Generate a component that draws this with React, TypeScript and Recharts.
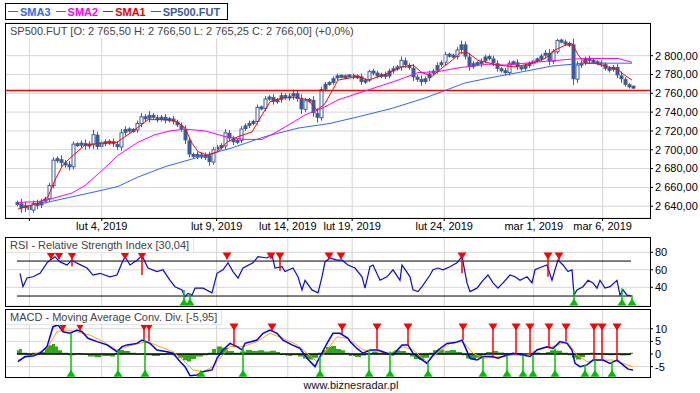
import React from 'react';
import { ComposedChart, Line, Bar, Area, XAxis, YAxis, ReferenceLine, CartesianGrid } from 'recharts';

// ---------- time axis (bar index units) ----------
const dateTicks = [3.1, 21.2, 49.9, 67.7, 83.8, 106.8, 129.2, 146.4];
const dateLabels = ['', 'lut 4, 2019', 'lut 9, 2019', 'lut 14, 2019', 'lut 19, 2019', 'lut 24, 2019', 'mar 1, 2019', 'mar 6, 2019'];

// ---------- price ----------
const priceTicks = [2640, 2660, 2680, 2700, 2720, 2740, 2760, 2780, 2800];
const priceLevel = 2763;
const closes = [
  2643, 2638, 2641, 2636, 2643, 2641, 2645, 2648, 2662, 2689,
  2690, 2686, 2684, 2682, 2706, 2705, 2707, 2704, 2706, 2716,
  2703, 2708, 2707, 2709, 2706, 2703, 2718, 2722, 2720, 2721,
  2728, 2735, 2733, 2737, 2734, 2732, 2735, 2731, 2733, 2730,
  2726, 2722, 2710, 2695, 2693, 2695, 2692, 2694, 2687, 2700,
  2703, 2704, 2718, 2712, 2708, 2710, 2722, 2726, 2728, 2730,
  2745, 2744, 2754, 2756, 2751, 2753, 2758, 2755, 2757, 2760,
  2754, 2743, 2752, 2753, 2739, 2734, 2764, 2770, 2771, 2776,
  2779, 2777, 2778, 2779, 2777, 2778, 2772, 2774, 2783, 2782,
  2778, 2780, 2778, 2784, 2786, 2788, 2795, 2790, 2787, 2777,
  2775, 2772, 2776, 2781, 2784, 2790, 2793, 2801, 2800, 2799,
  2806, 2812, 2799, 2788, 2792, 2791, 2794, 2799, 2797, 2792,
  2786, 2784, 2782, 2792, 2793, 2788, 2786, 2790, 2791, 2795,
  2796, 2800, 2803, 2794, 2804, 2816, 2815, 2812, 2812, 2775,
  2790, 2792, 2797, 2795, 2793, 2792, 2791, 2786, 2785, 2788,
  2779, 2775, 2769, 2767, 2766,
];
// wick extension beyond the body (points), per bar
const wicks = [
  3, 5, 4, 6, 3, 4, 3, 2, 3, 3,
  3, 4, 3, 4, 3, 2, 3, 4, 3, 5,
  3, 2, 3, 2, 3, 3, 4, 3, 2, 2,
  3, 4, 3, 4, 2, 3, 2, 3, 2, 3,
  2, 3, 4, 3, 2, 3, 2, 3, 4, 3,
  2, 3, 4, 3, 3, 2, 3, 2, 3, 2,
  3, 2, 3, 2, 3, 2, 3, 2, 3, 4,
  3, 5, 3, 2, 4, 5, 3, 2, 2, 2,
  2, 1, 2, 1, 2, 2, 3, 2, 2, 3,
  2, 2, 3, 2, 3, 2, 4, 3, 2, 4,
  3, 4, 2, 3, 2, 3, 2, 3, 2, 2,
  3, 4, 3, 4, 2, 2, 3, 2, 2, 3,
  3, 2, 3, 3, 2, 3, 2, 2, 3, 2,
  2, 2, 3, 4, 3, 2, 2, 2, 3, 6,
  4, 3, 2, 3, 2, 2, 3, 2, 3, 2,
  3, 4, 2, 2, 1,
];

const sma1: [number, number][] = [
  [0.25, 2637], [5.25, 2643], [7.75, 2650], [9.5, 2668], [11.5, 2684], [14, 2694], [17, 2705], [21.25, 2707],
  [25, 2708], [28.75, 2719], [32.75, 2732], [38.25, 2732], [40.25, 2729], [42, 2723], [43.75, 2707], [45.25, 2698],
  [47.75, 2694], [50.25, 2698], [52.5, 2708], [55.25, 2714], [58.75, 2719], [61.25, 2737], [63.25, 2751], [66.25, 2755],
  [69.5, 2756], [72.75, 2753], [75, 2742], [77, 2749], [80.25, 2774], [85.25, 2778], [87.75, 2774], [92, 2780],
  [96.25, 2788], [99, 2790], [101.25, 2782], [103.75, 2778], [106.25, 2787], [108.75, 2795], [110.75, 2803], [112.75, 2803],
  [115.25, 2795], [118.25, 2792], [120.25, 2790], [124.5, 2788], [128.75, 2792], [132, 2797], [134.5, 2806], [137, 2811],
  [138.75, 2813], [140.25, 2801], [142, 2792], [144.5, 2792], [147.75, 2788], [150.25, 2785], [152, 2779], [153.75, 2774],
];
const sma2: [number, number][] = [
  [0.25, 2644], [5.25, 2645], [7.75, 2647], [13.75, 2654], [17, 2662], [21.25, 2678], [25.25, 2694], [30.25, 2708],
  [34.5, 2716], [38.25, 2720], [42, 2722], [47, 2720], [52, 2714], [57, 2711], [61.25, 2711], [64.5, 2718],
  [67.75, 2726], [72, 2737], [76.25, 2744], [80.25, 2753], [85.25, 2760], [90.25, 2767], [95.25, 2774], [100.25, 2782],
  [105.25, 2783], [110.25, 2787], [117.75, 2791], [122, 2790], [129.5, 2793], [137.75, 2796], [142, 2797], [150.25, 2797],
  [153.75, 2793],
];
const sma3: [number, number][] = [
  [5.25, 2642], [13.75, 2650], [21.25, 2657], [25.25, 2661], [30.25, 2671], [37, 2682], [45.25, 2692], [53.75, 2702],
  [62, 2714], [70.25, 2723], [78.25, 2728], [85.25, 2735], [93.75, 2744], [102, 2755], [107, 2763], [112, 2771],
  [117.75, 2776], [125.25, 2782], [133.75, 2789], [142, 2792], [150.25, 2792], [153.75, 2792],
];

// ---------- RSI ----------
const rsiTicks = [40, 60, 80];
const rsi: [number, number][] = [
  [0.75, 56], [1.5, 40.7], [2.5, 50.6], [4, 52], [5.75, 56], [7.5, 68], [8.25, 71], [9.5, 75], [10.75, 69], [12.5, 65.5],
  [13.75, 71], [15, 67.6], [17.5, 62], [19, 54], [20.75, 56], [23.25, 52], [25, 54], [26.25, 68], [27, 75], [28.25, 65.5],
  [30, 71], [31.25, 76], [32.75, 62], [35, 58], [36.5, 60], [38.25, 48], [39.5, 40.7], [41.25, 37], [42, 29], [42.75, 33],
  [43.75, 31], [44.5, 39], [46.5, 39], [48.75, 33.6], [50, 56], [51.5, 60], [52.75, 68], [54, 58], [55.25, 50.6], [56.5, 62],
  [59, 68], [60.25, 75], [62.5, 73.5], [63.75, 77], [64.5, 62], [66.25, 63.5], [67, 58], [69, 62], [70.25, 52], [71.25, 37],
  [72, 48], [73.75, 37], [75.25, 33.6], [76.25, 52], [77, 69], [78.25, 73.5], [80, 71], [81.25, 71], [82.75, 65.5], [84.5, 62],
  [86.25, 52], [87, 39], [88.25, 63.5], [89, 65.5], [90.75, 48], [92.5, 52], [94, 60], [95.75, 48], [96.25, 65.5], [98.25, 52],
  [99, 37], [100.25, 35], [101.25, 40.7], [103.25, 54], [104, 60], [105.25, 62], [106.5, 60], [108.25, 63.5], [110, 68], [111.25, 75],
  [112.5, 45], [113.25, 35], [115, 39], [116.5, 48], [117.75, 54], [119, 45], [120.25, 39], [121.5, 45], [123.25, 54], [124.5, 52],
  [125.75, 48], [127.5, 52], [128.75, 45], [129.5, 60], [131.25, 63.5], [132.5, 65.5], [133.75, 48], [134.5, 60], [135.25, 71], [136.5, 65.5],
  [137.75, 58], [138.75, 60], [139.25, 31], [140, 37], [141.5, 40.7], [142.75, 48], [144, 45], [145, 39], [145.75, 48], [147, 39],
  [148.25, 40.7], [150, 48], [150.75, 31], [151.5, 37], [152.5, 31], [153.75, 30],
];
const rsiSell: [number, number][] = [
  [8.5, 72], [10.5, 72], [13.75, 64], [27, 74], [31.25, 54], [52.5, 72], [63.5, 76], [65.75, 59], [78, 73], [81, 72],
  [111.25, 56], [132.75, 52], [135.5, 71],
];
const rsiBuy: [number, number][] = [[41.75, 37], [43.25, 33], [139.25, 37], [151.25, 39], [153.75, 31]];

// ---------- MACD ----------
const macdTicks = [-5, 0, 5, 10];
const macd: [number, number][] = [
  [0.25, -3], [2, -1], [4, -0.8], [5.75, 0.3], [7.5, 2.9], [8.25, 6.8], [9, 10.8], [10.25, 11.5], [11.5, 8.8], [13.25, 8.2],
  [15, 9.5], [16.25, 8.8], [17.75, 6.2], [20, 4.9], [22.5, 3.6], [25, 0.9], [26.25, 2.9], [27.5, 3.6], [30, 4.2], [31.25, 5.5],
  [33.25, 4.2], [35, 1.6], [37.5, 0.9], [39, 0.3], [40.75, -3], [42, -5], [43.25, -8.6], [45, -8.3], [46.5, -7], [48.75, -6.3],
  [50, -1.7], [51.5, 1.6], [53.25, 4.2], [55, 2.9], [56.25, 1.6], [57, 4.2], [60, 5.5], [61.5, 8.2], [63.25, 9.5], [65, 8.2],
  [66.5, 5.5], [68.75, 3.6], [70.75, 2.2], [72.5, -1.7], [74.5, -5], [75.75, -1], [77.5, 4.2], [79, 8.2], [80.75, 8.2], [82.75, 6.2],
  [83.25, 4.9], [85, 2.2], [86.5, 0.3], [88.25, 1.6], [90.25, 1.6], [92.5, 0.3], [94, -0.4], [96.25, 3.6], [97.75, 3.6], [99, 0.3],
  [100.75, -1.7], [102.5, -3.7], [103.75, -1], [105.25, 1.6], [107.5, 4.2], [109.5, 4.5], [111.25, 5.5], [112, 2.9], [113.25, -1.7], [115, -2.4],
  [116.5, -1], [118.75, -1], [120.25, -1.7], [122.5, -0.4], [124, 0.3], [126.5, -0.4], [128.25, -1], [130, 1.6], [132.5, 2.9], [134, 2.2],
  [135.75, 4.9], [137.5, 4.2], [138.75, 1.6], [139.5, -3.7], [140.75, -5], [142.5, -4.3], [144, -2.4], [146.5, -2.4], [148.25, -3.7], [150, -2.4],
  [151.5, -4.3], [152.75, -6], [154, -6.3],
];
const signal: [number, number][] = [
  [0.25, -2.4], [4, -0.4], [7.5, 2.2], [10, 8.8], [12, 9.5], [15, 8.8], [18.25, 7.5], [21.5, 4.9], [25, 1.6], [29, 3.6],
  [32.5, 4.9], [35.75, 2.9], [39, 0.9], [41.5, -2.4], [44, -6.3], [46.5, -7], [49, -5], [50.75, -1.7], [53.25, 2.9], [56.5, 2.9],
  [60, 4.9], [63.25, 8.2], [66.5, 6.2], [70, 3.6], [72.5, 0.3], [75, -3], [77.5, 1.6], [80, 6.8], [82.75, 6.2], [86.5, 1.6],
  [90, 0.9], [93.25, 0.3], [96.5, 2.9], [99, 1.6], [102.5, -3], [105, 0.3], [108.25, 4.2], [111.5, 4.9], [114, 0.3], [116.5, -1.7],
  [120.75, -1], [124, -0.4], [127.5, -0.4], [130.75, 2.2], [134, 2.9], [137.5, 4.9], [140, -0.4], [142.5, -3], [145.75, -2.4], [149, -2.4],
  [151.5, -3.7], [154, -5],
];
const histogram: [number, number][] = [
  [0, 1.5], [0.5, 2], [1.25, 0.5], [2.5, -0.5], [3.75, 0.5], [5.25, 0.8], [7, 2.5], [7.75, 3.5], [8.75, 4], [9.5, 3],
  [10.25, 1.5], [11.25, 0.5], [12.75, -0.5], [14.5, 0.4], [16.25, -0.3], [17.75, -1], [19.5, -1.3], [21.25, -0.8], [23.25, -1], [24.5, 0.5],
  [25.25, 1.6], [26.75, 1.2], [28.25, 0.5], [29.75, -0.3], [31.25, 0.4], [32.25, -0.5], [33.75, -0.8], [35.75, -0.4], [37.25, 0.5], [38.75, -0.5],
  [40.25, -1.5], [41.5, -2.5], [42.5, -3], [43.5, -2], [44.75, -1], [46.5, -0.5], [47.75, 0.5], [48.75, 2], [49.75, 3], [51.25, 2.5],
  [52.75, 1.2], [54.25, 0.5], [55.75, 1], [57.25, 1.6], [58.75, 1.2], [60.25, 1.5], [61.75, 1], [63.25, 1.3], [64.75, 0.8], [65.75, -0.4],
  [67.25, -0.8], [68.75, -0.5], [70.25, -1], [71.5, -1.8], [72.75, -2.2], [74, -1.5], [75.25, 0.5], [76.25, 1.5], [77.25, 2.8], [78.5, 3.2],
  [79.75, 2], [81, 1.5], [82, 0.5], [83, -0.8], [84.5, -1.2], [86, -0.6], [87.25, 0.3], [88.75, 0.8], [90.25, 0.3], [91.75, -0.3],
  [93.25, 0.8], [94.25, 1.5], [95.75, 1.2], [97.25, 0.5], [98.25, -1], [99.25, -2], [100.5, -2.4], [101.75, -1.5], [103, 0.5], [104, 1.5],
  [105.25, 1.8], [106.75, 1.3], [108.25, 1.6], [109.75, 0.8], [111.25, -0.5], [112.25, -1.8], [113.25, -2.2], [114.75, -1.5], [116.25, -0.5], [117.25, 0.8],
  [118.75, 1.2], [120.25, 0.6], [121.75, 0.3], [123.25, -0.3], [124.75, 0.3], [126.25, -0.3], [127.75, 0.2], [129.25, 0.6], [130.75, 0.3], [132.25, 0.8],
  [133.25, 1.5], [134.75, 1.3], [136.25, 0.5], [137.75, -0.5], [138.75, -1.5], [139.75, -2.2], [141, -1.2], [142, 0.4], [143.25, 0.5], [144.75, 0.3],
  [146.25, -0.3], [147.75, -0.5], [149.25, -0.4], [150.75, -0.6], [152.25, -0.5], [153.25, 0.5], [154, 0.5],
];
const macdSell: [number, number][] = [
  [11.5, 9], [15.75, 9], [31.75, 5.5], [33, 5], [54.25, 2.9], [63.75, 8.8], [81.25, 7.9], [90, 1.6], [97.75, 3.6],
  [111.5, 5.5], [119, -1], [124.75, -0.4], [128.25, -0.4], [133, 2.2], [137.25, 4.9], [144.25, -2.4], [146.25, -2.4], [150, -2.4],
];
const macdBuy: [number, number][] = [
  [13.5, 8.2], [25.25, 1.6], [32, 5.5], [46, -7], [56.5, 2.9], [75.75, -1], [88, 1.6], [93.25, 1], [102.75, -3],
  [116.5, -1], [122.5, -0.4], [126.5, -0.4], [129, -0.4], [134.5, 2.2], [142, -4.3], [144.5, -2.4], [148.75, -3],
];

// ---------- styling ----------
const FONT = '"Liberation Sans", Arial, sans-serif';
const X_DOMAIN: [number, number] = [-3, 158.25];
const GRID = '#d6d6d6';
const PRICE = '#3b5b9c';
const RSI_SELL_LVL = 75.8;
const RSI_BUY_LVL = 23.2;
const MACD_SELL_LVL = 10.7;
const MACD_BUY_LVL = -7.6;
const tickStyle = { fontSize: 11, fill: '#000', fontFamily: FONT };

const toPts = (arr: [number, number][]) => arr.map(([t, v]) => ({ t, v }));
const candles = closes.map((c, i) => {
  const o = i === 0 ? c : closes[i - 1];
  const w = wicks[i] ?? 2;
  return { t: i, o, c, hi: Math.max(o, c) + w, lo: Math.min(o, c) - w, range: [Math.min(o, c) - w, Math.max(o, c) + w] };
});

const NBSP = '\u00a0';
const fmtPrice = (v: number) => {
  const [int, dec] = v.toFixed(2).split('.');
  return int.replace(/\B(?=(\d{3})+(?!\d))/g, NBSP) + ',' + dec;
};
const fmtDate = (v: number) => {
  const i = dateTicks.indexOf(v);
  return i >= 0 ? dateLabels[i].replace(/ /g, NBSP) : '';
};

const Candle = (props: any) => {
  const { x, y, width, height, payload } = props;
  if (x == null || y == null || !payload) return null;
  const cx = Math.round(x + width / 2) + 0.5;
  const h0 = Math.abs(height || 0);
  const top0 = height < 0 ? y + height : y;
  const k = h0 / (payload.hi - payload.lo || 1);
  const bTop0 = top0 + (payload.hi - Math.max(payload.o, payload.c)) * k;
  const bH0 = Math.abs(payload.o - payload.c) * k;
  const bH = Math.max(bH0, 3);
  const bTop = bTop0 - (bH - bH0) / 2;
  const hollow = payload.c > payload.o && bH0 > 6;
  return (
    <g>
      <line x1={cx} x2={cx} y1={top0} y2={top0 + h0} stroke={PRICE} strokeWidth={1} />
      {hollow ? (
        <rect x={cx - 1.5} y={bTop} width={3} height={bH} fill="#fff" stroke={PRICE} strokeWidth={1} />
      ) : (
        <rect x={cx - 2} y={bTop} width={4} height={bH} fill={PRICE} />
      )}
    </g>
  );
};

const triDown = (color: string) => (props: any) => {
  const { cx, cy, index } = props;
  if (cx == null || cy == null) return <g key={`n${index}`} />;
  return <path key={`d${index}`} d={`M${cx - 4.5},${cy - 3.5}L${cx + 4.5},${cy - 3.5}L${cx},${cy + 3.5}Z`} fill={color} />;
};
const triUp = (color: string) => (props: any) => {
  const { cx, cy, index } = props;
  if (cx == null || cy == null) return <g key={`n${index}`} />;
  return <path key={`u${index}`} d={`M${cx - 4.5},${cy + 3.5}L${cx + 4.5},${cy + 3.5}L${cx},${cy - 3.5}Z`} fill={color} />;
};

const RED = '#ff0000';
const GREEN = '#00c000';

const vGrid = () => dateTicks.map((t) => <ReferenceLine key={`vg${t}`} x={t} stroke={GRID} />);

const Panel = ({ top, height }: { top: number; height: number }) => (
  <div style={{ position: 'absolute', left: 5, top, width: 646, height, border: '1px solid #000', boxSizing: 'border-box', pointerEvents: 'none' }} />
);

const TitleBox = ({ top, text, border }: { top: number; text: string; border: boolean }) => (
  <div
    style={{
      position: 'absolute', left: 6, top, background: '#fff', padding: '0 4px', height: 14, lineHeight: '14px',
      fontFamily: FONT, fontSize: 11, color: '#444', whiteSpace: 'pre',
      borderRight: border ? '1px solid #e4e4e4' : 'none', borderBottom: border ? '1px solid #e4e4e4' : 'none',
    }}
  >
    {text}
  </div>
);

const legendItems = [
  { name: 'SMA3', color: '#3366ff' },
  { name: 'SMA2', color: '#ff00ff' },
  { name: 'SMA1', color: '#ee0000' },
  { name: 'SP500.FUT', color: PRICE },
];

export default function App() {
  return (
    <div style={{ position: 'absolute', left: 0, top: 0, width: 700, height: 393, background: '#fff', overflow: 'hidden', fontFamily: FONT }}>
      {/* legend */}
      <div style={{ position: 'absolute', left: 5, top: 3, height: 17, border: '1px solid #000', boxSizing: 'border-box', display: 'flex', alignItems: 'center', padding: '0 2px 0 2px', fontFamily: FONT, fontSize: 11, fontWeight: 'bold' }}>
        {legendItems.map((it) => (
          <span key={it.name} style={{ display: 'flex', alignItems: 'center', marginRight: 5, color: it.color }}>
            <span style={{ display: 'inline-block', width: 10, height: 1, background: it.color, marginRight: 2 }} />
            {it.name}
          </span>
        ))}
      </div>

      {/* main price panel */}
      <div style={{ position: 'absolute', left: 0, top: 0 }}>
        <ComposedChart width={700} height={240} margin={{ top: 23, right: 0, bottom: 2, left: 5 }} data={candles}>
          <CartesianGrid vertical={false} stroke={GRID} />
          <XAxis type="number" dataKey="t" domain={X_DOMAIN} allowDataOverflow ticks={dateTicks} interval={0} tickFormatter={fmtDate}
            height={20} tickSize={3} tickMargin={1} axisLine={false} tickLine={{ stroke: '#000' }} tick={tickStyle} />
          <YAxis orientation="right" type="number" domain={[2627.5, 2834.7]} allowDataOverflow ticks={priceTicks} interval={0} tickFormatter={fmtPrice}
            width={50} tickSize={3} tickMargin={2} axisLine={false} tickLine={{ stroke: '#000' }} tick={tickStyle} />
          {vGrid()}
          <ReferenceLine y={priceLevel} stroke={RED} strokeWidth={1.3} />
          <Bar dataKey="range" shape={Candle} barSize={3} isAnimationActive={false} />
          <Line data={toPts(sma3)} dataKey="v" stroke="#3366ff" strokeWidth={1} dot={false} activeDot={false} isAnimationActive={false} />
          <Line data={toPts(sma2)} dataKey="v" stroke="#ff00ff" strokeWidth={1} dot={false} activeDot={false} isAnimationActive={false} />
          <Line data={toPts(sma1)} dataKey="v" stroke="#ff0000" strokeWidth={1} dot={false} activeDot={false} isAnimationActive={false} />
        </ComposedChart>
      </div>
      <Panel top={23} height={196} />
      <TitleBox top={24} border={false} text={'SP500.FUT [O: 2 765,50 H: 2 766,50 L: 2 765,25 C: 2 766,00] (+0,0%)'} />

      {/* RSI panel */}
      <div style={{ position: 'absolute', left: 0, top: 237 }}>
        <ComposedChart width={700} height={69} margin={{ top: 0, right: 0, bottom: 0, left: 5 }} data={toPts(rsi)}>
          <CartesianGrid vertical={false} stroke={GRID} />
          <XAxis type="number" dataKey="t" domain={X_DOMAIN} allowDataOverflow hide />
          <YAxis orientation="right" type="number" domain={[18.6, 97.5]} allowDataOverflow ticks={rsiTicks} interval={0}
            width={50} tickSize={3} tickMargin={2} axisLine={false} tickLine={{ stroke: '#000' }} tick={tickStyle} />
          {vGrid()}
          <ReferenceLine segment={[{ x: 0, y: 70 }, { x: 153.5, y: 70 }]} stroke="#000" />
          <ReferenceLine segment={[{ x: 0, y: 30 }, { x: 153.5, y: 30 }]} stroke="#000" />
          <Line dataKey="v" stroke="#0a0ad0" strokeWidth={1.2} dot={false} activeDot={false} isAnimationActive={false} />
          {rsiSell.map(([t, v]) => (
            <ReferenceLine key={`rs${t}`} segment={[{ x: t, y: RSI_SELL_LVL }, { x: t, y: v }]} stroke={RED} strokeWidth={1.5} />
          ))}
          {rsiBuy.map(([t, v]) => (
            <ReferenceLine key={`rb${t}`} segment={[{ x: t, y: RSI_BUY_LVL }, { x: t, y: v }]} stroke={GREEN} strokeWidth={1.5} />
          ))}
          <Line data={rsiSell.map(([t]) => ({ t, v: RSI_SELL_LVL }))} dataKey="v" stroke="none" dot={triDown(RED)} activeDot={false} isAnimationActive={false} />
          <Line data={rsiBuy.map(([t]) => ({ t, v: RSI_BUY_LVL }))} dataKey="v" stroke="none" dot={triUp(GREEN)} activeDot={false} isAnimationActive={false} />
        </ComposedChart>
      </div>
      <Panel top={237} height={70} />
      <TitleBox top={238} border={true} text={'RSI - Relative Strength Index [30,04]'} />

      {/* MACD panel */}
      <div style={{ position: 'absolute', left: 0, top: 309 }}>
        <ComposedChart width={700} height={68} margin={{ top: 0, right: 0, bottom: 0, left: 5 }} data={toPts(macd)}>
          <XAxis type="number" dataKey="t" domain={X_DOMAIN} allowDataOverflow hide />
          <YAxis orientation="right" type="number" domain={[-9.1, 17.8]} allowDataOverflow ticks={macdTicks} interval={0}
            width={50} tickSize={3} tickMargin={2} axisLine={false} tickLine={{ stroke: '#000' }} tick={tickStyle} />
          {[-5, 5, 10].map((y) => <ReferenceLine key={`hg${y}`} y={y} stroke={GRID} />)}
          {vGrid()}
          <Area data={toPts(histogram)} dataKey="v" type="stepAfter" baseValue={0} stroke="none" fill="#2fa81a" fillOpacity={1} dot={false} activeDot={false} isAnimationActive={false} />
          <ReferenceLine segment={[{ x: 0, y: 0 }, { x: 153.5, y: 0 }]} stroke="#000" strokeWidth={1.3} />
          <Line data={toPts(signal)} dataKey="v" stroke="#ffa500" strokeWidth={1} dot={false} activeDot={false} isAnimationActive={false} />
          <Line dataKey="v" stroke="#0000ee" strokeWidth={1.5} dot={false} activeDot={false} isAnimationActive={false} />
          {macdSell.map(([t, v]) => (
            <ReferenceLine key={`ms${t}`} segment={[{ x: t, y: MACD_SELL_LVL }, { x: t, y: v }]} stroke={RED} strokeWidth={1.5} />
          ))}
          {macdBuy.map(([t, v]) => (
            <ReferenceLine key={`mb${t}`} segment={[{ x: t, y: MACD_BUY_LVL }, { x: t, y: v }]} stroke={GREEN} strokeWidth={1.5} />
          ))}
          <Line data={macdSell.map(([t]) => ({ t, v: MACD_SELL_LVL }))} dataKey="v" stroke="none" dot={triDown(RED)} activeDot={false} isAnimationActive={false} />
          <Line data={macdBuy.map(([t]) => ({ t, v: MACD_BUY_LVL }))} dataKey="v" stroke="none" dot={triUp(GREEN)} activeDot={false} isAnimationActive={false} />
        </ComposedChart>
      </div>
      <Panel top={309} height={69} />
      <TitleBox top={310} border={true} text={'MACD - Moving Average Conv. Div. [-5,95]'} />

      <div style={{ position: 'absolute', left: 0, top: 379, width: 702, textAlign: 'center', fontFamily: FONT, fontSize: 11, color: '#111' }}>
        www.biznesradar.pl
      </div>
    </div>
  );
}
